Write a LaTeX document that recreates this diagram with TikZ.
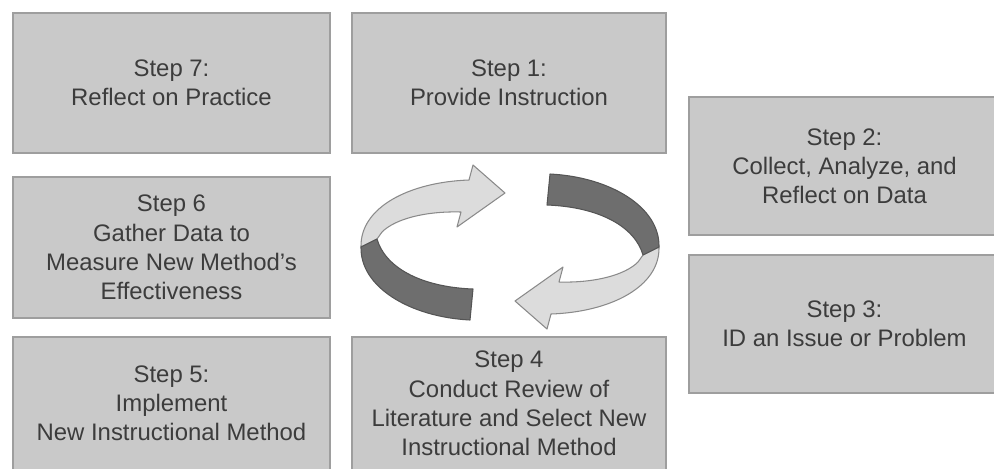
\documentclass[tikz,border=0pt]{standalone}
\usepackage{fontspec}
\setmainfont{Liberation Sans}
\definecolor{boxfill}{HTML}{C9C9C9}
\definecolor{boxborder}{HTML}{9E9E9E}
\definecolor{txt}{HTML}{3C3C3C}
\definecolor{ltfill}{HTML}{DCDCDC}
\definecolor{ltdraw}{HTML}{8A8A8A}
\definecolor{dkfill}{HTML}{6E6E6E}
\definecolor{dkdraw}{HTML}{555555}
\begin{document}
\begin{tikzpicture}[x=0.02cm,y=-0.02cm,
  stepbox/.style={draw=boxborder, fill=boxfill, line width=1.1pt, align=center,
    text=txt, font=\fontsize{13.6}{16.6}\selectfont, inner sep=0pt},
  lightpart/.style={fill=ltfill, draw=ltdraw, line width=0.6pt, line join=round},
  darkpart/.style={fill=dkfill, draw=dkdraw, line width=0.6pt, line join=round}]
\useasboundingbox (0,0) rectangle (994,468);
\clip (0,0) rectangle (994,468);
% boxes
\node[stepbox, minimum width=6.34cm, minimum height=2.8cm] (s7) at (171.5,83) {Step 7:\\Reflect on Practice};
\node[stepbox, minimum width=6.28cm, minimum height=2.8cm] (s1) at (509,83) {Step 1:\\Provide Instruction};
\node[stepbox, minimum width=6.34cm, minimum height=2.82cm] (s6) at (171.5,247.5) {Step 6\\Gather Data to\\Measure New Method's\\Effectiveness};
\node[stepbox, minimum width=6.34cm, minimum height=2.66cm] (s5) at (171.5,403.5) {Step 5:\\Implement\\New Instructional Method};
\node[stepbox, minimum width=6.28cm, minimum height=2.66cm] (s4) at (509,403.5) {Step 4\\Conduct Review of\\Literature and Select New\\Instructional Method};
\node[stepbox, minimum width=6.22cm, minimum height=2.76cm] (s2) at (844.5,166) {Step 2:\\Collect, Analyze, and\\Reflect on Data};
\node[stepbox, minimum width=6.22cm, minimum height=2.76cm] (s3) at (844.5,324) {Step 3:\\ID an Issue or Problem};
% circular arrows
\foreach \rot in {0,180}{
\begin{scope}[shift={(510,247)}, rotate=\rot]
  \path[lightpart] (-37,-82) -- (-5,-54) -- (-53,-20) -- (-49,-35)
     .. controls (-85,-36) and (-115,-28) .. (-128,-15) -- (-133,-8) -- (-149,0)
     .. controls (-150,-40) and (-100,-65) .. (-41,-67) -- cycle;
  \path[darkpart] (-149,0) .. controls (-150,40) and (-100,70) .. (-40,73)
     -- (-37,42) .. controls (-90,40) and (-125,20) .. (-133,-8) -- cycle;
\end{scope}
}
\end{tikzpicture}
\end{document}
